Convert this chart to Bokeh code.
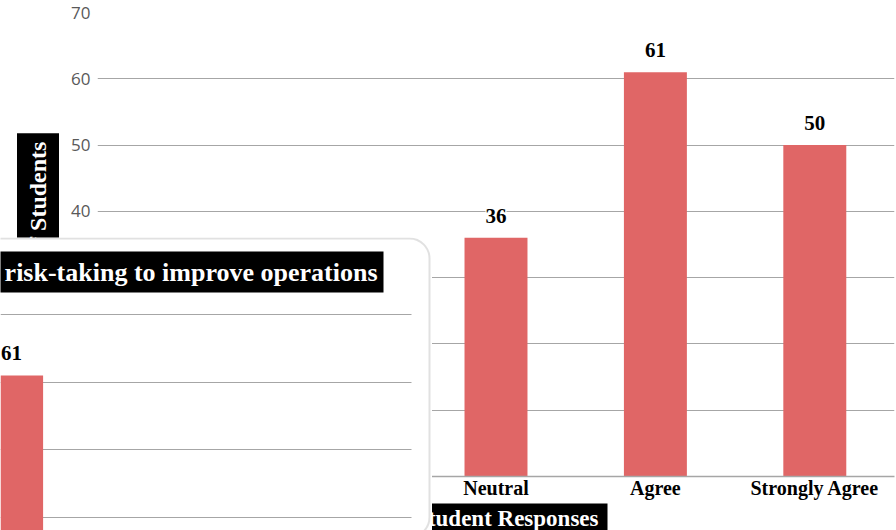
from bokeh.plotting import figure
from bokeh.models import (ColumnDataSource, FactorRange, Range1d, LabelSet, Label, Title,
                          BoxAnnotation, FixedTicker, GridBox, Grid)
from bokeh.embed import file_html
from bokeh.resources import INLINE
from bokeh.core.properties import value

# ---------------- data ----------------
categories = ["Strongly Disagree", "Disagree", "Neutral", "Agree", "Strongly Agree"]
students = [2, 9, 36, 61, 50]          # first two bars are hidden behind the inset panel
y_ticks = [0, 10, 20, 30, 40, 50, 60, 70]
y_max = 70
x_title = "Student Responses"
y_title = "Number of Students"

inset_title = "risk-taking to improve operations"
inset_categories = ["Neutral"]
inset_students = [61]

# ---------------- styles ----------------
BAR = "#E06666"
GRID = "#A6A6A6"
SERIF = "Liberation Serif"
SANS = "Open Sans"

# ---------------- main chart ----------------
src = ColumnDataSource(dict(cat=categories, val=students, txt=[str(v) for v in students]))

main = figure(x_range=FactorRange(factors=categories, range_padding=0),
              y_range=Range1d(0, y_max), width=896, height=530,
              output_backend="svg", toolbar_location=None,
              min_border_left=97, min_border_right=2, min_border_top=12, min_border_bottom=53)
main.outline_line_color = None
main.background_fill_color = "white"
main.border_fill_color = "white"

main.vbar(x="cat", top="val", width=0.395, source=src, fill_color=BAR, line_color=None)
main.add_layout(LabelSet(x="cat", y="val", text="txt", source=src, y_offset=15,
                         text_align="center", text_baseline="alphabetic",
                         text_font=value(SERIF), text_font_style="bold",
                         text_font_size="21px", text_color="black",
                         background_fill_color="white"))

main.xgrid.visible = False
main.ygrid.ticker = FixedTicker(ticks=y_ticks)
main.ygrid.grid_line_color = GRID

ya = main.yaxis[0]
ya.ticker = FixedTicker(ticks=y_ticks)
ya.axis_line_color = None
ya.major_tick_line_color = None
ya.minor_tick_line_color = None
ya.major_tick_out = 0
ya.major_tick_in = 0
ya.minor_tick_out = 0
ya.axis_label_standoff = 0
ya.major_label_text_font = SANS
ya.major_label_text_font_size = "17px"
ya.major_label_text_color = "#595959"
ya.major_label_standoff = 7

xa = main.xaxis[0]
xa.axis_line_color = GRID
xa.axis_line_width = 1.5
xa.major_tick_line_color = None
xa.minor_tick_line_color = None
xa.major_tick_out = 0
xa.major_tick_in = 0
xa.minor_tick_out = 0
xa.axis_label_standoff = 0
xa.major_label_text_font = SERIF
xa.major_label_text_font_style = "bold"
xa.major_label_text_font_size = "20px"
xa.major_label_text_color = "black"
xa.major_label_standoff = 0

# axis titles: white bold serif on black boxes
main.add_layout(Title(text=y_title, align="center", text_font=SERIF, text_font_style="bold",
                      text_font_size="24px", text_color="white",
                      background_fill_color="black", padding=8, standoff=19), "left")
main.add_layout(Title(text=x_title, align="right", offset=287, text_font=SERIF,
                      text_font_style="bold", text_font_size="23px", text_color="white",
                      background_fill_color="black",
                      padding=dict(left=9, right=9, top=2, bottom=0), standoff=0), "below")

# ---------------- inset panel ----------------
IW, IH = 432, 293
px_per_cat = 160.0
px_per_unit = 6.767
bar_px = 11
x0 = 2.5 - bar_px / px_per_cat
x1 = x0 + IW / px_per_cat
y1 = 70 + 77 / px_per_unit
y0 = y1 - IH / px_per_unit

inset = figure(x_range=Range1d(x0, x1), y_range=Range1d(y0, y1), width=IW, height=IH,
               output_backend="svg", toolbar_location=None,
               x_axis_type=None, y_axis_type=None, min_border=0)
inset.outline_line_color = None
inset.background_fill_color = "white"
inset.border_fill_color = "white"
inset.add_layout(Grid(dimension=1, ticker=FixedTicker(ticks=y_ticks), grid_line_color=GRID))

isrc = ColumnDataSource(dict(x=[categories.index(c) + 0.5 for c in inset_categories],
                             val=inset_students, txt=[str(v) for v in inset_students]))
inset.vbar(x="x", top="val", width=0.395, source=isrc, fill_color=BAR, line_color=None)
inset.add_layout(LabelSet(x="x", y="val", text="txt", source=isrc, y_offset=15,
                          text_align="center", text_baseline="alphabetic",
                          text_font=value(SERIF), text_font_style="bold",
                          text_font_size="21px", text_color="black"))
# blank margin right of the inset plot area
inset.add_layout(BoxAnnotation(left=len(categories), fill_color="white", fill_alpha=1,
                               line_color=None))
inset.add_layout(Label(x=x0 + 383 / px_per_cat, y=y1 - 34.5 / px_per_unit, text=inset_title,
                       text_align="right", text_baseline="middle", text_font=SERIF,
                       text_font_style="bold", text_font_size="26px", text_color="white",
                       background_fill_color="black", padding=6))
inset.add_layout(BoxAnnotation(left=x0 - 1, right=x0 + 429 / px_per_cat,
                               top=y1 - 1 / px_per_unit, bottom=y0 - 1,
                               border_radius=20, fill_alpha=0, line_color="#9A9A9A",
                               line_width=2, level="overlay"))

# overlapping placement; separate grid lines so frames are not aligned to each other
layout = GridBox(children=[(main, 0, 1, 2, 2), (inset, 1, 0, 2, 2)],
                 rows=["237px", "293px", "0px"], cols=["0px", "432px", "464px"])

open("out.html", "w").write(file_html(layout, INLINE))
